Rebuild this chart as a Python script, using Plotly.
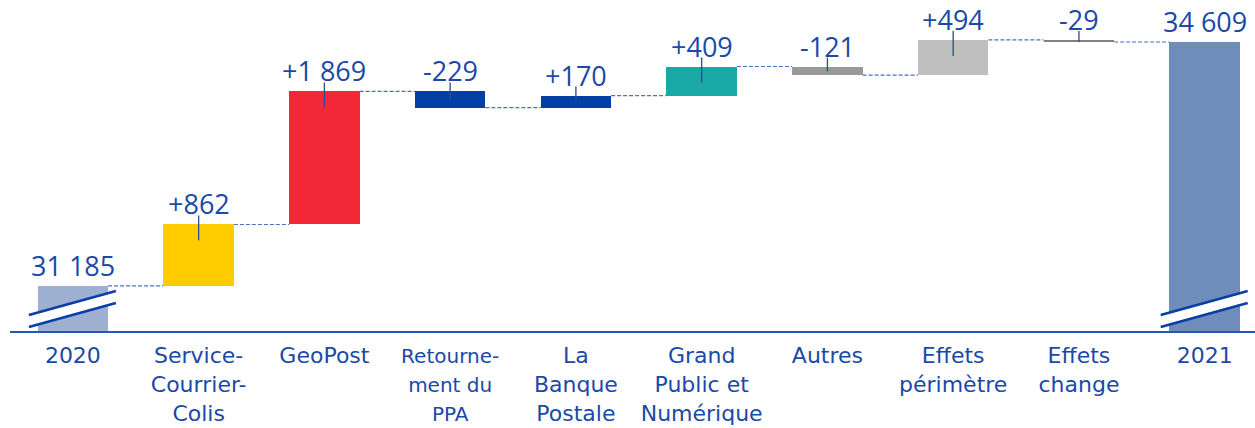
import plotly.graph_objects as go

categories = ["2020", "Service-<br>Courrier-<br>Colis", "GeoPost",
              "<span style='font-size:20px'>Retourne-<br>ment du<br>PPA</span>",
              "La<br>Banque<br>Postale", "Grand<br>Public et<br>Numérique", "Autres",
              "Effets<br>périmètre", "Effets<br>change", "2021"]
values = [31185, 862, 1869, -229, 170, 409, -121, 494, -29, 34609]
measures = ["total", "relative", "relative", "relative", "relative", "relative",
            "relative", "relative", "relative", "total"]
colors = ["#9EB0D2", "#FFCC00", "#F22837", "#0340A6", "#0340A6", "#1AA9A7",
          "#999999", "#BFBFBF", "#808080", "#6F8DBB"]

Y_MIN, Y_MAX = 30551, 35200
PLOT_H = 331
BLUE = "#1A49A8"
FONT = "Open Sans"
TICKFONT = "DejaVu Sans"

x = list(range(len(values)))
bases, heights, tops, ends = [], [], [], []
cum = 0
for v, m in zip(values, measures):
    if m == "total":
        bases.append(0); heights.append(v); tops.append(v); cum = v
    else:
        start = cum
        cum = cum + v
        bases.append(min(start, cum)); heights.append(abs(v)); tops.append(max(start, cum))
    ends.append(cum)

fig = go.Figure()
fig.add_trace(go.Bar(x=x, y=heights, base=bases, marker=dict(color=colors, line=dict(width=0)),
                     width=0.56, hoverinfo="skip", showlegend=False))

shapes = []
annotations = []
for i, (v, m) in enumerate(zip(values, measures)):
    txt = f"{v:,}".replace(",", " ") if m == "total" else f"{v:+,}".replace(",", " ")
    annotations.append(dict(x=i, y=tops[i], xref="x", yref="y", text=txt, showarrow=False,
                            yanchor="bottom", yshift=1, borderpad=0,
                            font=dict(family=FONT, size=27, color=BLUE)))
    if m == "relative":
        hpx = abs(v) * PLOT_H / (Y_MAX - Y_MIN)
        below = min(16, max(2, hpx * 0.55))
        shapes.append(dict(type="line", xref="x", yref="y", ysizemode="pixel", yanchor=tops[i],
                           x0=i, x1=i, y0=-below, y1=9,
                           line=dict(color="#2B4A8F", width=1.3)))

# connectors
for i in range(len(values) - 1):
    shapes.append(dict(type="line", xref="x", yref="y", x0=i + 0.28, x1=i + 1 - 0.28,
                       y0=ends[i], y1=ends[i],
                       line=dict(color="#4A72C0", width=1.2, dash="4px,2px")))

# axis break marks
for i in (0, len(values) - 1):
    shapes.append(dict(type="path", xref="x", yref="y", xsizemode="pixel", ysizemode="pixel",
                       xanchor=i, yanchor=Y_MIN,
                       path="M -44 5 L 43 29 L 43 39 L -44 15 Z",
                       fillcolor="white", line=dict(width=0)))
    for off in (4, 16):
        shapes.append(dict(type="path", xref="x", yref="y", xsizemode="pixel", ysizemode="pixel",
                           xanchor=i, yanchor=Y_MIN,
                           path=f"M -44 {off} L 43 {off + 24}",
                           line=dict(color="#0A3FA8", width=2.5)))

fig.update_layout(
    width=1255, height=428, margin=dict(l=10, r=0, t=0, b=428 - PLOT_H),
    paper_bgcolor="white", plot_bgcolor="white",
    shapes=shapes, annotations=annotations, bargap=0,
    font=dict(family=FONT, color=BLUE),
    xaxis=dict(tickvals=x, ticktext=categories, range=[-0.5, 9.4], showgrid=False,
               zeroline=False, showline=True, linecolor="#2457B8", linewidth=2,
               ticks="", ticklabelstandoff=4,
               tickfont=dict(family=TICKFONT, size=22, color=BLUE)),
    yaxis=dict(range=[Y_MIN, Y_MAX], visible=False, showgrid=False, zeroline=False),
)

fig.write_html("out.html", config={"displayModeBar": False},
               post_script="document.body.style.margin='0';document.body.style.overflow='hidden';")
